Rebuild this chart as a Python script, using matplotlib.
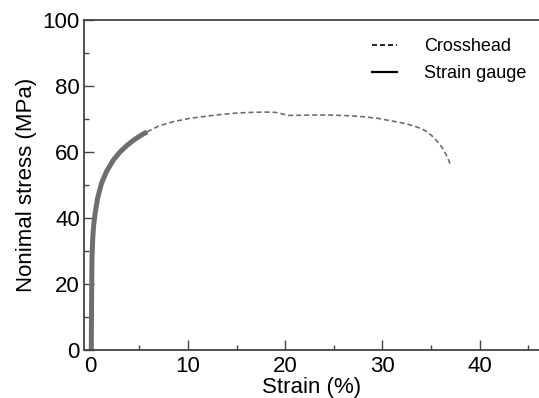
import matplotlib
matplotlib.use("Agg")
import matplotlib.pyplot as plt
from matplotlib.lines import Line2D
from matplotlib.ticker import MultipleLocator

plt.rcParams['font.family'] = ['Liberation Sans', 'DejaVu Sans']

# strain gauge (thick solid)
gauge_strain = [0.05, 0.08, 0.12, 0.2, 0.3, 0.45, 0.7, 1.1, 1.6, 2.3, 3.0, 3.8, 4.6, 5.3, 5.8]
gauge_stress = [0, 15, 28, 34, 38, 41.5, 46, 50.5, 54, 57.5, 60, 62.2, 64, 65.3, 66.1]

# crosshead (dashed)
cross_strain = [5.8, 7.0, 8.5, 10.2, 12, 13.5, 15, 16.5, 18, 19, 19.6, 20.3, 21, 22.5,
                24.5, 26.5, 28, 29.5, 30.8, 32, 33, 34, 34.6, 35.2, 35.8, 36.3, 36.7, 37.0]
cross_stress = [66.1, 67.9, 69.2, 70.2, 70.9, 71.4, 71.8, 72.0, 72.1, 72.0, 71.6, 71.1, 71.1, 71.2,
                71.2, 71.0, 70.7, 70.2, 69.5, 68.8, 68.1, 67.1, 66.1, 64.6, 62.7, 60.6, 58.3, 56.0]

line_col = '#6e6e6e'

fig = plt.figure(figsize=(5.39, 3.98), dpi=100)
ax = fig.add_axes([84 / 539, 48 / 398, 1 - 84 / 539, 330 / 398])

ax.plot(cross_strain, cross_stress, color=line_col, lw=1.2, linestyle=(0, (3, 1.8)))
ax.plot(gauge_strain, gauge_stress, color=line_col, lw=3.6, solid_capstyle='butt')

ax.set_xlim(-0.7, 46.1)
ax.set_ylim(0, 100)
ax.xaxis.set_major_locator(MultipleLocator(10))
ax.xaxis.set_minor_locator(MultipleLocator(5))
ax.yaxis.set_major_locator(MultipleLocator(20))
ax.yaxis.set_minor_locator(MultipleLocator(10))
ax.tick_params(which='both', direction='in', labelsize=16, color='#444444')
ax.tick_params(axis='x', pad=4)
ax.tick_params(axis='y', pad=3)
ax.tick_params(which='major', length=7, width=1)
ax.tick_params(which='minor', length=3.5, width=1)
ax.spines['right'].set_visible(False)
for s in ['left', 'bottom', 'top']:
    ax.spines[s].set_linewidth(1.3)
    ax.spines[s].set_color('#444444')

ax.set_xlabel('Strain (%)', fontsize=16, labelpad=0)
ax.set_ylabel('Nonimal stress (MPa)', fontsize=16, labelpad=4)

handles = [Line2D([], [], color='black', lw=1.2, linestyle=(0, (3, 1.8))),
           Line2D([], [], color='black', lw=1.6)]
ax.legend(handles, ['Crosshead', 'Strain gauge'], loc='upper right', frameon=False,
          fontsize=13, handlelength=1.4, handletextpad=1.5, labelspacing=0.55,
          bbox_to_anchor=(1.008, 0.995))

fig.savefig('out.png', dpi=100)
